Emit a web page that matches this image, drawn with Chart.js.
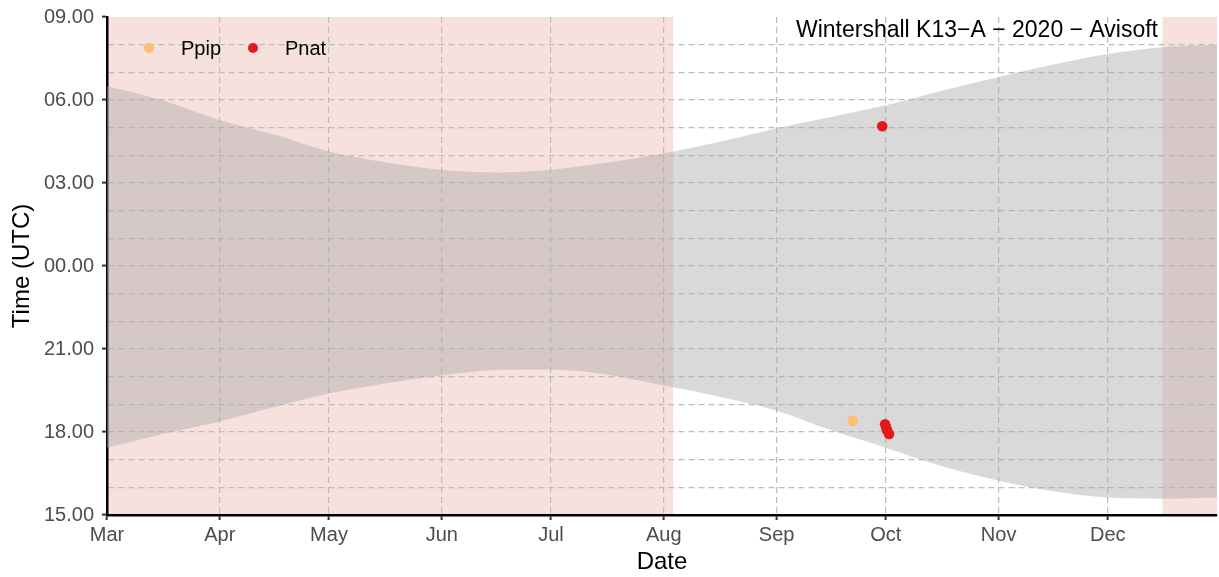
<!DOCTYPE html>
<html>
<head>
<meta charset="utf-8">
<title>Wintershall K13-A 2020 - Avisoft</title>
<script src="https://cdn.jsdelivr.net/npm/chart.js@4.4.1/dist/chart.umd.min.js"></script>
<style>
  html, body { margin: 0; padding: 0; background: #fff; }
</style>
</head>
<body>
<canvas id="chart" width="1219" height="577"></canvas>
<script>
// x values are days counted from 1 March 2020
const monthDays = [0, 31, 61, 92, 122, 153, 184, 214, 245, 275];
const monthLabels = ['Mar', 'Apr', 'May', 'Jun', 'Jul', 'Aug', 'Sep', 'Oct', 'Nov', 'Dec'];
const firstDay = 0;
const lastDay = 305;

// y values are hours after midnight of the evening (15 = 15.00, 29 = 05.00 next morning)
const yMin = 15;
const yMax = 33;

// night band: sunset and sunrise
const nightDays = [0, 15, 31, 46, 61, 76, 92, 107, 122, 137, 153, 168, 184, 199, 214, 229, 245, 260, 275, 290, 305];
const sunset = [17.43, 17.92, 18.38, 18.90, 19.39, 19.74, 20.04, 20.24, 20.26, 20.08, 19.68, 19.28, 18.77, 18.06, 17.43, 16.78, 16.24, 15.86, 15.63, 15.59, 15.63];
const sunrise = [30.50, 30.00, 29.27, 28.75, 28.14, 27.76, 27.48, 27.38, 27.48, 27.73, 28.07, 28.48, 28.98, 29.39, 29.81, 30.32, 30.83, 31.28, 31.66, 31.91, 31.99];

// periods shaded pink
const shadeFrom = [0, 290];
const shadeTo = [155.6, 305];

// bat passes
const ppipDays = [204.9];
const ppipTimes = [18.41];
const pnatDays = [213.0, 213.8, 214.1, 214.4, 214.9];
const pnatTimes = [29.05, 18.28, 18.16, 18.05, 17.93];

const titleText = 'Wintershall K13\u2212A \u2212 2020 \u2212 Avisoft';
const FONT = "'Liberation Sans', Arial, sans-serif";

function pairs(xs, ys) {
	return xs.map((x, i) => ({ x: x, y: ys[i] }));
}

function fmtHour(v) {
	const h = ((v % 24) + 24) % 24;
	return String(h).padStart(2, '0') + '.00';
}

// keep the plot box where the layout padding puts it
function noLabelPadding(scale) {
	scale.paddingTop = 0;
	scale.paddingBottom = 0;
	scale.paddingLeft = 0;
	scale.paddingRight = 0;
}

// pink periods, painted before the grid
const shadePlugin = {
	id: 'shade',
	beforeDraw(chart) {
		const { ctx, chartArea, scales } = chart;
		ctx.save();
		ctx.fillStyle = 'rgb(247,225,221)';
		shadeFrom.forEach((from, i) => {
			const x1 = scales.x.getPixelForValue(from);
			const x2 = scales.x.getPixelForValue(shadeTo[i]);
			ctx.fillRect(x1, chartArea.top, x2 - x1, chartArea.bottom - chartArea.top);
		});
		ctx.restore();
	},
};

// title in the top right corner and legend in the top left corner
const overlayPlugin = {
	id: 'overlay',
	afterDraw(chart) {
		const { ctx, chartArea } = chart;
		ctx.save();
		ctx.fillStyle = '#000';
		ctx.font = '23px ' + FONT;
		ctx.textAlign = 'right';
		ctx.textBaseline = 'alphabetic';
		ctx.fillText(titleText, chartArea.right - 59, chartArea.top + 20);

		const pointSets = chart.data.datasets.filter(d => d.type === 'scatter');
		let x = chartArea.left + 42;
		const y = chartArea.top + 31;
		ctx.font = '20px ' + FONT;
		ctx.textAlign = 'left';
		ctx.textBaseline = 'middle';
		pointSets.forEach(d => {
			ctx.fillStyle = d.backgroundColor;
			ctx.beginPath();
			ctx.arc(x, y, 5, 0, Math.PI * 2);
			ctx.fill();
			ctx.fillStyle = '#000';
			ctx.fillText(d.label, x + 32, y + 1);
			x += 104;
		});
		ctx.restore();
	},
};

const ctx = document.getElementById('chart').getContext('2d');
const chart = new Chart(ctx, {
	data: {
		datasets: [
			{
				type: 'scatter',
				label: 'Ppip',
				data: pairs(ppipDays, ppipTimes),
				backgroundColor: '#FDBF6F',
				borderWidth: 0,
				pointRadius: 5.3,
				order: 0,
			},
			{
				type: 'scatter',
				label: 'Pnat',
				data: pairs(pnatDays, pnatTimes),
				backgroundColor: '#E31A1C',
				borderWidth: 0,
				pointRadius: 5.3,
				order: 0,
			},
			{
				type: 'line',
				label: 'sunset',
				data: pairs(nightDays, sunset),
				borderWidth: 0,
				borderColor: 'rgba(0,0,0,0)',
				pointRadius: 0,
				cubicInterpolationMode: 'monotone',
				fill: false,
				order: 2,
			},
			{
				type: 'line',
				label: 'sunrise',
				data: pairs(nightDays, sunrise),
				borderWidth: 0,
				borderColor: 'rgba(0,0,0,0)',
				backgroundColor: 'rgba(170,170,170,0.45)',
				pointRadius: 0,
				cubicInterpolationMode: 'monotone',
				fill: 2,
				order: 2,
			},
		],
	},
	options: {
		responsive: false,
		animation: false,
		events: [],
		devicePixelRatio: 1,
		layout: { autoPadding: false, padding: { top: 17, right: 2, left: 0, bottom: 0 } },
		plugins: {
			legend: { display: false },
			tooltip: { enabled: false },
		},
		scales: {
			x: {
				type: 'linear',
				min: firstDay,
				max: lastDay,
				afterBuildTicks: scale => {
					scale.ticks = monthDays.map(v => ({ value: v }));
				},
				afterFit: scale => {
					scale.height = 62;
					noLabelPadding(scale);
				},
				ticks: {
					autoSkip: false,
					maxRotation: 0,
					padding: 3,
					color: '#4D4D4D',
					font: { family: FONT, size: 20 },
					callback: v => monthLabels[monthDays.indexOf(v)],
				},
				grid: {
					color: '#BDBDBD',
					lineWidth: 1.2,
					tickLength: 5,
					tickWidth: 2,
					tickColor: '#333333',
				},
				border: { display: true, color: '#000', width: 2.5, dash: [6, 4] },
				title: {
					display: true,
					text: 'Date',
					color: '#000',
					font: { family: FONT, size: 24 },
					padding: { top: 0, bottom: 0 },
				},
			},
			y: {
				type: 'linear',
				min: yMin,
				max: yMax,
				afterFit: scale => {
					scale.width = 107;
					noLabelPadding(scale);
				},
				ticks: {
					stepSize: 1,
					autoSkip: false,
					padding: 8,
					color: '#4D4D4D',
					font: { family: FONT, size: 20 },
					callback: v => (v % 3 === 0 ? fmtHour(v) : ''),
				},
				grid: {
					color: c => (c.tick && (c.tick.value === yMax || c.tick.value === yMin) ? 'rgba(0,0,0,0)' : '#BDBDBD'),
					lineWidth: 1.2,
					tickLength: 5,
					tickWidth: 2,
					tickColor: c => (c.tick && c.tick.value % 3 === 0 ? '#333333' : 'rgba(0,0,0,0)'),
				},
				border: { display: true, color: '#000', width: 2.5, dash: [6, 4] },
				title: {
					display: true,
					text: 'Time (UTC)',
					color: '#000',
					font: { family: FONT, size: 24 },
					padding: { top: 8, bottom: 0 },
				},
			},
		},
	},
	plugins: [shadePlugin, overlayPlugin],
});
</script>
</body>
</html>
